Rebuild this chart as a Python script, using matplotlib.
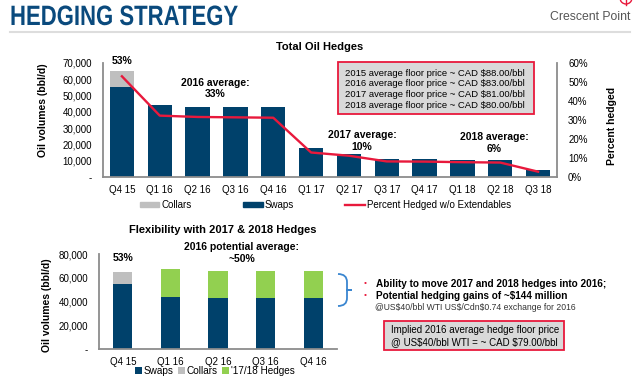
import matplotlib
matplotlib.use("Agg")
import matplotlib.pyplot as plt
from matplotlib.patches import Rectangle, Patch, PathPatch, Arc
from matplotlib.lines import Line2D
from matplotlib.path import Path
from matplotlib.textpath import TextPath
from matplotlib.font_manager import FontProperties
from matplotlib.transforms import Affine2D
from matplotlib.ticker import FuncFormatter

plt.rcParams["font.family"] = ["Liberation Sans", "DejaVu Sans"]

# ===== data: total oil hedges =====
quarters = ["Q4 15", "Q1 16", "Q2 16", "Q3 16", "Q4 16", "Q1 17",
            "Q2 17", "Q3 17", "Q4 17", "Q1 18", "Q2 18", "Q3 18"]
swaps = [55000, 44000, 43000, 43000, 43000, 17500,
         14000, 11000, 11000, 10500, 10500, 4000]
collars = [10000, 0, 0, 0, 0, 0, 0, 0, 0, 0, 0, 0]
pct_hedged = [53, 32.3, 31.6, 31.4, 31.2, 12.9, 11.2, 8.2, 8.1, 7.8, 7.6, 2.8]
floor_notes = ["2015 average floor price ~ CAD \\$88.00/bbl",
               "2016 average floor price ~ CAD \\$83.00/bbl",
               "2017 average floor price ~ CAD \\$81.00/bbl",
               "2018 average floor price ~ CAD \\$80.00/bbl"]

# ===== data: flexibility =====
flex_quarters = ["Q4 15", "Q1 16", "Q2 16", "Q3 16", "Q4 16"]
flex_swaps = [55000, 44000, 43000, 43000, 43000]
flex_collars = [10000, 0, 0, 0, 0]
flex_1718 = [0, 23000, 23000, 23000, 23000]

NAVY = "#00416b"
GREY = "#bfbfbf"
GREEN = "#92d050"
RED = "#e8193c"
SPINE = "#8c8c8c"


def fx(px):
    return px / 640


def fy(py):
    return 1 - py / 389


def vol_fmt(v, pos):
    return "-" if v == 0 else f"{v:,.0f}"


fig = plt.figure(figsize=(6.4, 3.89), dpi=100)

# ===== header (condensed bold title drawn as a squeezed text path) =====
title_path = TextPath((0, 0), "HEDGING STRATEGY", size=28,
                      prop=FontProperties(family="Liberation Sans", weight="bold"))
squeeze = Affine2D().scale(0.79, 1.0).translate(10, 389 - 25)
fig.add_artist(PathPatch(squeeze.transform_path(title_path), facecolor="#0a4a7d",
                         edgecolor="none", transform=None))
fig.text(fx(630), fy(17), "Crescent Point", fontsize=8.8, color="#555555",
         va="center", ha="right")
fig.add_artist(Line2D([fx(10), fx(630)], [fy(32), fy(32)], color="#dddddd", lw=1.5))
fig.add_artist(Arc((fx(626), fy(-2)), fx(12), 12 / 389, theta1=180, theta2=360,
                   color=RED, lw=1, transform=fig.transFigure))
fig.add_artist(Line2D([fx(626), fx(626)], [fy(0), fy(5)], color=RED, lw=1))

# ===== top chart =====
ax = fig.add_axes([fx(103), fy(177), fx(557) - fx(103), fy(63) - fy(177)])
x = range(len(quarters))
ax.bar(x, swaps, width=0.64, color=NAVY, label="Swaps")
ax.bar(x, collars, width=0.64, bottom=swaps, color=GREY, label="Collars")
ax.set_xlim(-0.5, len(quarters) - 0.5)
ax.set_ylim(0, 70000)
ax.set_yticks(range(0, 70001, 10000))
ax.yaxis.set_major_formatter(FuncFormatter(vol_fmt))
ax.set_xticks(list(x))
ax.set_xticklabels(quarters)
ax.tick_params(length=0, labelsize=7)
ax.tick_params(axis="y", pad=8)
ax.tick_params(axis="x", pad=6)
for s in ["top", "right"]:
    ax.spines[s].set_visible(False)
for s in ["left", "bottom"]:
    ax.spines[s].set_color(SPINE)
    ax.spines[s].set_linewidth(1.3)

ax2 = ax.twinx()
ax2.plot(list(x), pct_hedged, color=RED, lw=1.7)
ax2.set_ylim(0, 60)
ax2.set_yticks(range(0, 61, 10))
ax2.yaxis.set_major_formatter(FuncFormatter(lambda v, p: f"{v:.0f}%"))
ax2.tick_params(length=0, labelsize=7, pad=8)
for s in ["top", "left", "bottom"]:
    ax2.spines[s].set_visible(False)
ax2.spines["right"].set_color(SPINE)
ax2.spines["right"].set_linewidth(1.3)

fig.text(fx(320), fy(47), "Total Oil Hedges", fontsize=8, fontweight="bold",
         ha="center", va="center")
fig.text(fx(43), fy(110), "Oil volumes (bbl/d)", fontsize=7.5, fontweight="bold",
         rotation=90, ha="center", va="center")
fig.text(fx(612), fy(126), "Percent hedged", fontsize=7.5, fontweight="bold",
         rotation=90, ha="center", va="center")

ax.text(0, 71000, "53%", fontsize=7.5, fontweight="bold", ha="center", va="center")
ax.text(2.46, 54300, "2016 average:\n33%", fontsize=7.5, fontweight="bold",
        ha="center", va="center")
ax.text(6.35, 22200, "2017 average:\n10%", fontsize=7.5, fontweight="bold",
        ha="center", va="center")
ax.text(9.84, 20900, "2018 average:\n6%", fontsize=7.5, fontweight="bold",
        ha="center", va="center")

# floor price box
fig.add_artist(Rectangle((fx(338), fy(114)), fx(534) - fx(338), fy(62) - fy(114),
                         facecolor="#d9d9d9", edgecolor=RED, lw=1.3))
for i, note in enumerate(floor_notes):
    fig.text(fx(345), fy(73 + i * 10.7), note, fontsize=6.8, ha="left", va="center")

handles = [Patch(color=GREY, label="Collars"), Patch(color=NAVY, label="Swaps"),
           Line2D([], [], color=RED, lw=1.7, label="Percent Hedged w/o Extendables")]
fig.legend(handles=handles, loc="center left", bbox_to_anchor=(fx(140), fy(205)),
           ncol=3, frameon=False, fontsize=7, handlelength=2.0, handleheight=0.5,
           handletextpad=0.2, columnspacing=5.3, borderaxespad=0, borderpad=0)

# ===== bottom chart =====
bx = fig.add_axes([fx(99), fy(349), fx(337) - fx(99), fy(254) - fy(349)])
fxr = range(len(flex_quarters))
bottom2 = [a + b for a, b in zip(flex_swaps, flex_collars)]
bx.bar(fxr, flex_swaps, width=0.4, color=NAVY, label="Swaps")
bx.bar(fxr, flex_collars, width=0.4, bottom=flex_swaps, color=GREY, label="Collars")
bx.bar(fxr, flex_1718, width=0.4, bottom=bottom2, color=GREEN, label="'17/18 Hedges")
bx.set_xlim(-0.5, len(flex_quarters) - 0.5)
bx.set_ylim(0, 80000)
bx.set_yticks(range(0, 80001, 20000))
bx.yaxis.set_major_formatter(FuncFormatter(vol_fmt))
bx.set_xticks(list(fxr))
bx.set_xticklabels(flex_quarters)
bx.tick_params(length=0, labelsize=7)
bx.tick_params(axis="y", pad=8)
bx.tick_params(axis="x", pad=6)
for s in ["top", "right"]:
    bx.spines[s].set_visible(False)
for s in ["left", "bottom"]:
    bx.spines[s].set_color(SPINE)
    bx.spines[s].set_linewidth(1.3)

fig.text(fx(223), fy(230), "Flexibility with 2017 & 2018 Hedges", fontsize=8,
         fontweight="bold", ha="center", va="center")
fig.text(fx(47), fy(305), "Oil volumes (bbl/d)", fontsize=7.5, fontweight="bold",
         rotation=90, ha="center", va="center")
bx.text(0, 76900, "53%", fontsize=7.5, fontweight="bold", ha="center", va="center")
bx.text(2.5, 80900, "2016 potential average:\n~50%", fontsize=7.5,
        fontweight="bold", ha="center", va="center")
bx.legend(loc="center left", bbox_to_anchor=(fx(135), fy(371)),
          bbox_transform=fig.transFigure, ncol=3, frameon=False, fontsize=7.2,
          handlelength=0.7, handleheight=0.7, handletextpad=0.2,
          columnspacing=0.4, borderaxespad=0, borderpad=0)

# bracket
verts = [(338, 274), (347, 274), (347, 282), (347, 290), (357, 290),
         (347, 290), (347, 298), (347, 306), (338, 306)]
codes = [Path.MOVETO, Path.CURVE3, Path.CURVE3, Path.LINETO, Path.CURVE3,
         Path.CURVE3, Path.LINETO, Path.CURVE3, Path.CURVE3]
verts = [(fx(a), fy(b)) for a, b in verts]
fig.add_artist(PathPatch(Path(verts, codes), fill=False, edgecolor="#3a86d0",
                         lw=1.3, transform=fig.transFigure))

for yy, txt in [(284, "Ability to move 2017 and 2018 hedges into 2016;"),
                (296, "Potential hedging gains of ~\\$144 million")]:
    fig.text(fx(365), fy(yy), "\u2022", color=RED, fontsize=6, ha="center", va="center")
    fig.text(fx(376), fy(yy), txt, fontsize=7.2, fontweight="bold", ha="left", va="center")
fig.text(fx(375), fy(307), "@US\\$40/bbl WTI US\\$/Cdn\\$0.74 exchange for 2016",
         fontsize=6.2, color="#333333", ha="left", va="center")

fig.add_artist(Rectangle((fx(384), fy(350)), fx(564) - fx(384), fy(321) - fy(350),
                         facecolor="#d9d9d9", edgecolor=RED, lw=1.3))
fig.text(fx(391), fy(330), "Implied 2016 average hedge floor price",
         fontsize=7, ha="left", va="center")
fig.text(fx(391), fy(342), "@ US\\$40/bbl WTI = ~ CAD \\$79.00/bbl",
         fontsize=7, ha="left", va="center")

fig.savefig("out.png", dpi=100)
plt.close(fig)
